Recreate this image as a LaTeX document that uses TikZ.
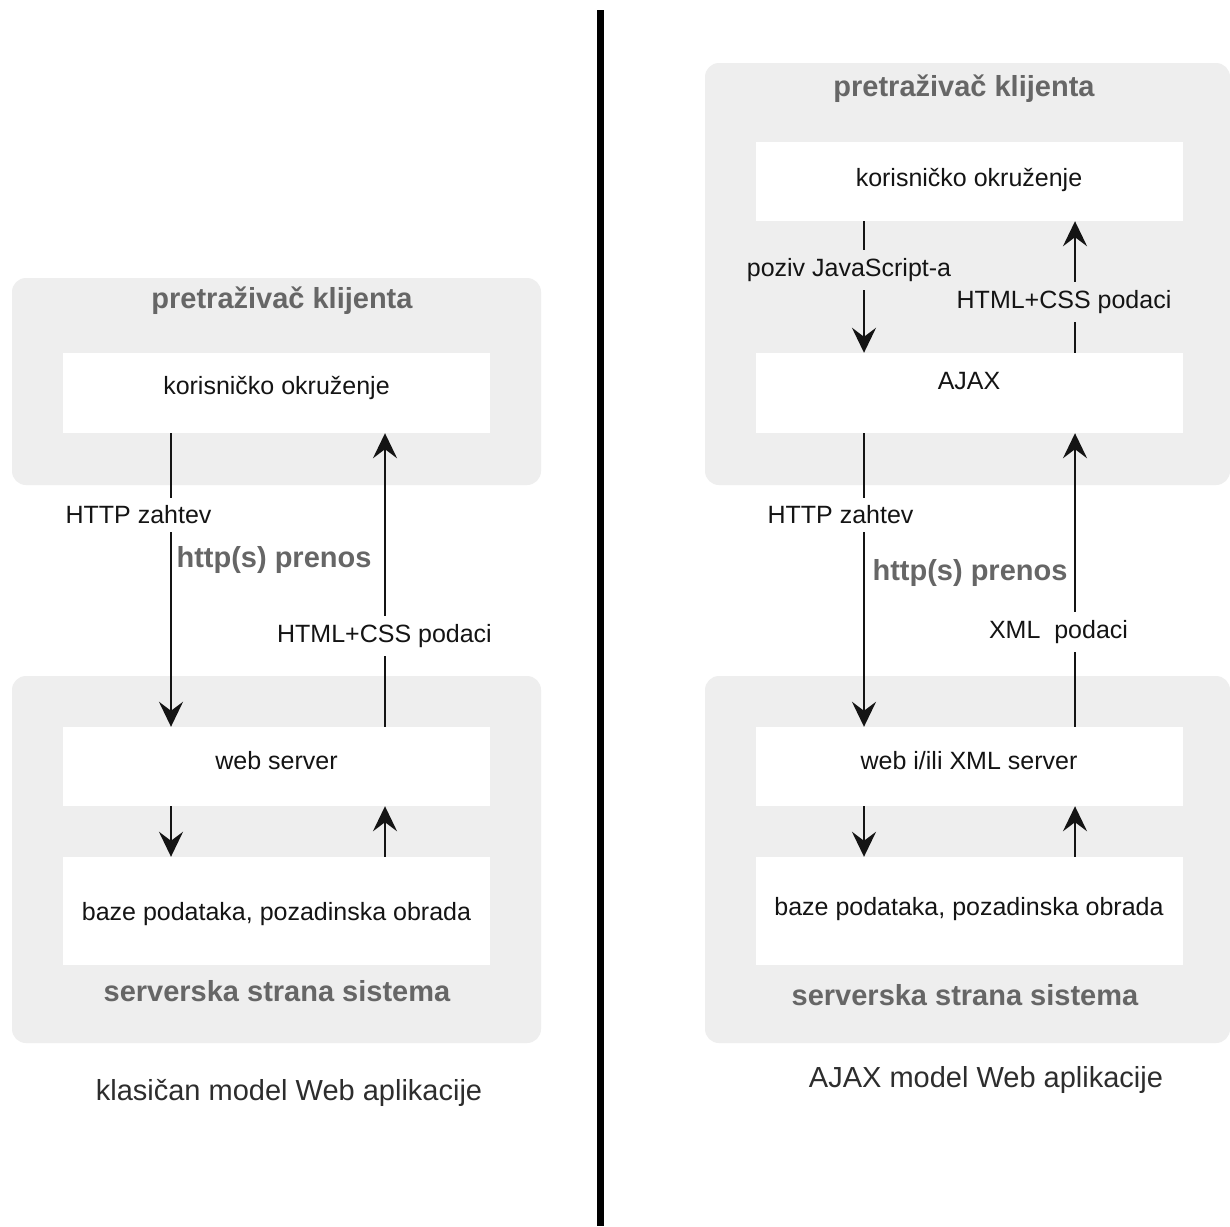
\documentclass[tikz,border=0pt]{standalone}
\usepackage{fontspec}
\setmainfont{Liberation Sans}
\usetikzlibrary{arrows.meta}
\definecolor{panel}{RGB}{238,238,238}
\definecolor{titlegray}{RGB}{102,102,102}
\definecolor{ink}{RGB}{20,20,20}
\definecolor{captink}{RGB}{45,45,45}
\begin{document}
\begin{tikzpicture}[x=1pt,y=-1pt,
  panelbox/.style={fill=panel, rounded corners=14pt, inner sep=0pt},
  innerbox/.style={fill=white, minimum width=427pt, text height=18pt, inner sep=0pt,
    font=\fontsize{25}{30}\selectfont, text=ink},
  ttl/.style={font=\bfseries\fontsize{29}{34}\selectfont, text=titlegray},
  lbl/.style={font=\fontsize{25}{30}\selectfont, text=ink, inner xsep=2pt, inner ysep=8pt},
  arr/.style={draw=ink, line width=2.6pt, -{Stealth[length=25pt,width=24pt,inset=9pt]}},
  capt/.style={font=\fontsize{29}{34}\selectfont, text=captink}
]
\fill[white] (0,0) rectangle (1230,1226);
\useasboundingbox (0,0) rectangle (1230,1226);

% divider
\coordinate (divtop) at (600,10);
\coordinate (divbot) at (600,1226);
\draw[line width=7pt, black] (divtop) -- (divbot);

% ---------- left: classic model ----------
\node[panelbox, minimum width=529pt, minimum height=207pt] (cli1) at (276.5,381.5) {};
\node[ttl] (t1) at (282,301) {pretraživač klijenta};
\node[innerbox, minimum height=80pt, text depth=16pt] (kor1) at (276.5,393) {korisničko okruženje};

\node[panelbox, minimum width=529pt, minimum height=367pt] (srv1) at (276.5,859.5) {};
\node[innerbox, minimum height=79pt, text depth=13pt] (web1) at (276.5,766.5) {web server};
\node[innerbox, minimum height=108pt, text depth=0pt] (baz1) at (276.5,911) {baze podataka, pozadinska obrada};
\node[ttl] (s1) at (277,991) {serverska strana sistema};

\coordinate (L1) at (171,0);
\coordinate (R1) at (385,0);
\draw[arr] (kor1.south -| L1) -- (web1.north -| L1);
\draw[arr] (web1.north -| R1) -- (kor1.south -| R1);
\draw[arr] (web1.south -| L1) -- (baz1.north -| L1);
\draw[arr] (baz1.north -| R1) -- (web1.south -| R1);
\node[lbl, fill=white] (lz1) at (138.5,515) {HTTP zahtev};
\node[lbl, fill=white] (lh1) at (384.5,636) {HTML+CSS podaci};
\node[ttl] (h1) at (274,560) {http(s) prenos};
\node[capt] (c1) at (289,1093) {klasičan model Web aplikacije};

% ---------- right: AJAX model ----------
\node[panelbox, minimum width=525pt, minimum height=422pt] (cli2) at (967.5,274) {};
\node[ttl] (t2) at (964,89) {pretraživač klijenta};
\node[innerbox, minimum height=79pt, text depth=9pt] (kor2) at (969,181.5) {korisničko okruženje};
\node[innerbox, minimum height=80pt, text depth=26pt] (ajax) at (969,393) {AJAX};

\node[panelbox, minimum width=525pt, minimum height=367pt] (srv2) at (967.5,859.5) {};
\node[innerbox, minimum height=79pt, text depth=13pt] (web2) at (969,766.5) {web i/ili XML server};
\node[innerbox, minimum height=108pt, text depth=10pt] (baz2) at (969,911) {baze podataka, pozadinska obrada};
\node[ttl] (s2) at (965,995) {serverska strana sistema};

\coordinate (L2) at (864,0);
\coordinate (R2) at (1075,0);
\draw[arr] (kor2.south -| L2) -- (ajax.north -| L2);
\draw[arr] (ajax.north -| R2) -- (kor2.south -| R2);
\draw[arr] (ajax.south -| L2) -- (web2.north -| L2);
\draw[arr] (web2.north -| R2) -- (ajax.south -| R2);
\draw[arr] (web2.south -| L2) -- (baz2.north -| L2);
\draw[arr] (baz2.north -| R2) -- (web2.south -| R2);
\node[lbl, fill=panel] (pz) at (849,270) {poziv JavaScript-a};
\node[lbl, fill=panel] (lh2) at (1064,302) {HTML+CSS podaci};
\node[lbl, fill=white] (lz2) at (840.5,515) {HTTP zahtev};
\node[lbl, fill=white] (lx) at (1058.5,632) {XML\ \ podaci};
\node[ttl] (h2) at (970,573) {http(s) prenos};
\node[capt] (c2) at (986,1080) {AJAX model Web aplikacije};
\end{tikzpicture}
\end{document}
